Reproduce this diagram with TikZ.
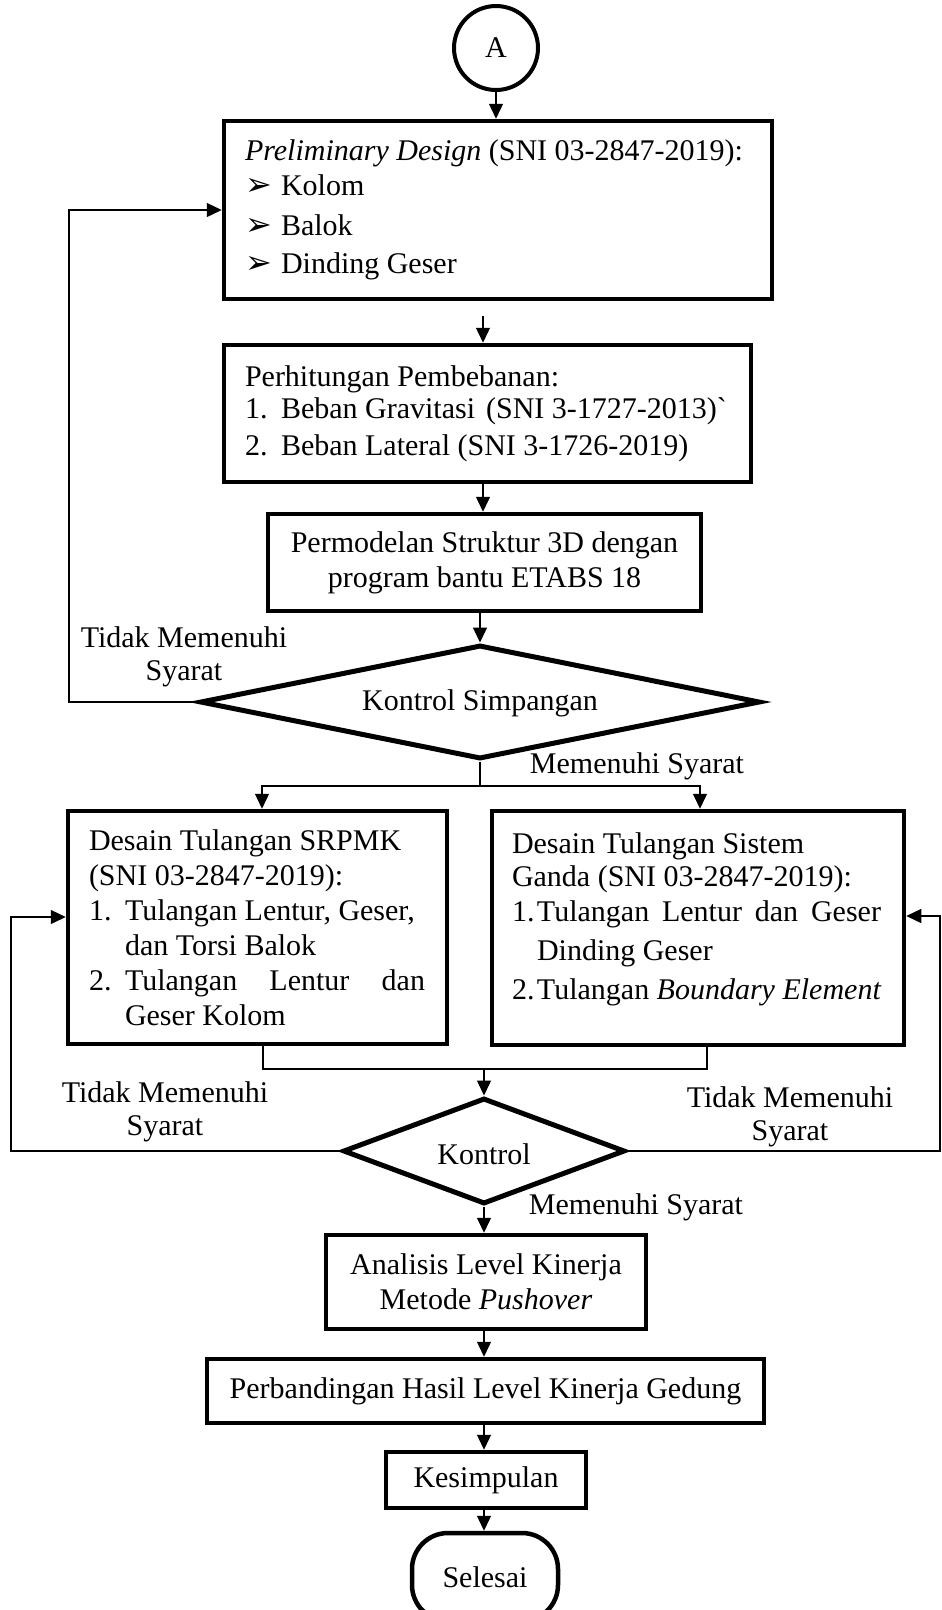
\documentclass[tikz,border=0pt]{standalone}
\usepackage{fontspec}
\setmainfont{Liberation Serif}
\newfontfamily\dejavu{DejaVu Sans}
\newfontfamily\rawser{Liberation Serif}[Ligatures=TeXOff]
\usetikzlibrary{shapes.geometric,arrows.meta,calc}
\newcommand{\mybul}{\makebox[36pt][l]{\dejavu\fontsize{32}{32}\selectfont ➢}}
\newcommand{\nsp}{\spaceskip=0pt\xspaceskip=0pt\relax}
\begin{document}
\begin{tikzpicture}[x=1pt,y=-1pt,
  box/.style={draw, line width=4.5pt, inner sep=0pt, font=\fontsize{30}{35}\selectfont},
  dia/.style={draw, diamond, line width=5pt, inner sep=0pt},
  circ/.style={draw, circle, line width=4pt, inner sep=0pt, minimum size=84pt, font=\fontsize{30}{35}\selectfont},
  conn/.style={line width=1.3pt},
  arr/.style={conn, -{Triangle[length=15pt,width=14pt]}},
  lbl/.style={inner sep=0pt, align=center, font=\fontsize{30}{33}\selectfont}]
\useasboundingbox (0,0) rectangle (942,1610);

% nodes
\node[circ] (A) at (496,48) {A};
\node[box, minimum width=548pt, minimum height=178pt, text width=506pt, align=left] (b1) at (498,210)
  {\nsp\mbox{\textit{Preliminary Design} (SNI 03-2847-2019):}\\\mybul Kolom\\[5pt]\mybul Balok\\[3pt]\mybul Dinding Geser};
\node[box, minimum width=527pt, minimum height=137pt, text width=485pt, align=left] (b2) at (487.5,413.5)
  {\nsp\mbox{Perhitungan Pembebanan:}\\[-3pt]\mbox{\makebox[36pt][l]{1.}Beban Gravitasi\hspace{11pt}(SNI 3-1727-2013){\rawser`}}\\[2pt]\mbox{\makebox[36pt][l]{2.}Beban Lateral (SNI 3-1726-2019)}};
\node[box, minimum width=433pt, minimum height=97pt, align=center] (b3) at (484.5,562.5)
  {Permodelan Struktur 3D dengan\\program bantu ETABS 18};
\node[dia, minimum width=560pt, minimum height=114pt] (d1) at (480,702) {};
\node[lbl] (d1t) at (480,703) {Kontrol Simpangan};

\node[box, minimum width=379pt, minimum height=233pt, text width=337pt, align=left] (bL) at (257.5,927.5)
  {\nsp\mbox{Desain Tulangan SRPMK}\\\mbox{(SNI 03-2847-2019):}\\\mbox{\makebox[36pt][l]{1.}\makebox[301pt][l]{Tulangan Lentur, Geser,}}\\\mbox{\hspace*{36pt}dan Torsi Balok}\\\mbox{\makebox[36pt][l]{2.}\makebox[300pt][l]{Tulangan\hfill Lentur\hfill dan}}\\\mbox{\hspace*{36pt}Geser Kolom}};
\node[box, minimum width=412pt, minimum height=234pt, text width=372pt, align=left] (bR) at (698,928)
  {\nsp\mbox{Desain Tulangan Sistem}\\[-2pt]\mbox{Ganda (SNI 03-2847-2019):}\\\mbox{\makebox[25pt][l]{1.}\makebox[344pt][l]{Tulangan\hfill Lentur\hfill dan\hfill Geser}}\\[4pt]\mbox{\hspace*{25pt}Dinding Geser}\\[4pt]\mbox{\makebox[25pt][l]{2.}Tulangan \textit{Boundary Element}}\\[-12pt]\mbox{}};

\node[dia, minimum width=282pt, minimum height=106pt] (d2) at (484,1151) {};
\node[lbl] (d2t) at (484,1154) {Kontrol};

\node[box, minimum width=320pt, minimum height=94pt, align=center] (b4) at (486,1282)
  {Analisis Level Kinerja\\Metode \textit{Pushover}};
\node[box, minimum width=557pt, minimum height=64pt] (b5) at (485.5,1391)
  {Perbandingan Hasil Level Kinerja Gedung};
\node[box, minimum width=200pt, minimum height=56pt] (b6) at (486,1480) {Kesimpulan};
\node[box, minimum width=146pt, minimum height=88pt, rounded corners=36pt] (fin) at (485,1577) {Selesai};

% labels
\node[lbl] (t1) at (184,657) {Tidak Memenuhi\\Syarat};
\node[lbl] (m1) at (637,766) {Memenuhi Syarat};
\node[lbl] (t2) at (165,1112) {Tidak Memenuhi\\Syarat};
\node[lbl] (t3) at (790,1117) {Tidak Memenuhi\\Syarat};
\node[lbl] (m2) at (636,1207) {Memenuhi Syarat};

% helper coordinates
\coordinate (sp) at (483,0);
\coordinate (sp2) at (484,0);
\coordinate (split) at (480,786);
\coordinate (mrg) at (484,1069);
\coordinate (fbA) at (69,0);
\coordinate (fbB) at (11,0);
\coordinate (fbC) at (940,0);

% main flow
\draw[arr] (A.south) -- (A.south |- b1.north);
\draw[arr] ($(b1.south -| sp)+(0,15)$) -- (b2.north -| sp);
\draw[arr] (b2.south -| sp) -- (b3.north -| sp);
\draw[arr] (b3.south -| d1.north) -- (d1.north);
\draw[conn] (d1.south) -- (split);
\draw[arr] (split) -| ([xshift=4.5pt]bL.north);
\draw[arr] (split) -| ([xshift=2pt]bR.north);
\draw[conn] ([xshift=5.5pt]bL.south) |- (mrg) -| ([xshift=9pt]bR.south);
\draw[arr] (mrg) -- (d2.north);
\draw[arr] (d2.south) -- (d2.south |- b4.north);
\draw[arr] (b4.south -| sp2) -- (b5.north -| sp2);
\draw[arr] (b5.south -| sp2) -- (b6.north -| sp2);
\draw[arr] (b6.south -| sp2) -- (fin.north -| sp2);

% feedback loops
\draw[arr] (d1.west) -- (d1.west -| fbA) |- (b1.west);
\draw[arr] (d2.west) -- (d2.west -| fbB) |- ([yshift=10.5pt]bL.west);
\draw[arr] (d2.east) -- (d2.east -| fbC) |- ([yshift=12pt]bR.east);
\end{tikzpicture}
\end{document}
